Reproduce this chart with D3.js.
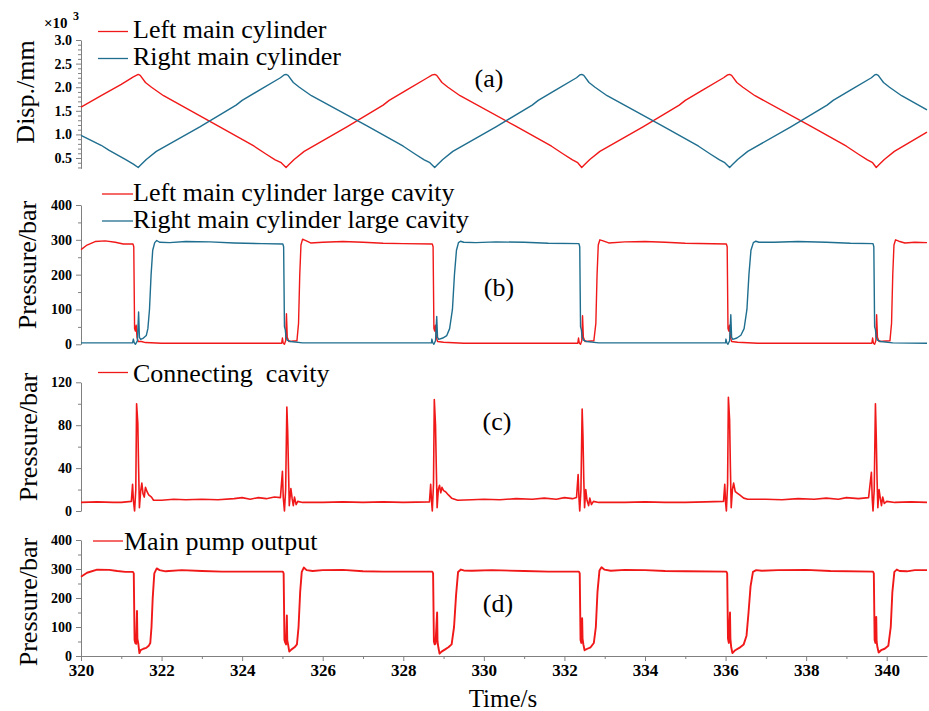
<!DOCTYPE html>
<html>
<head>
<meta charset="utf-8">
<script src="https://cdn.jsdelivr.net/npm/d3@7"></script>
<style>
  body { margin: 0; background: #fff; }
  svg text { font-family: "Liberation Serif", "Times New Roman", serif !important; }
</style>
</head>
<body>
<div id="graf"></div>
<script>
// ---- DATOS ----
// tiempo [s], valor

// (a) desplazamiento x10^3 mm
leftDisp = [
  [320.00,1.58],[320.50,1.82],[321.00,2.06],[321.30,2.22],[321.42,2.27],[321.47,2.25],[321.60,2.10],[321.75,2.00],
  [322.05,1.82],[323.40,1.18],[324.30,0.75],[324.60,0.58],[324.82,0.46],[324.97,0.40],[325.09,0.30],[325.15,0.35],
  [325.29,0.47],[325.54,0.64],[326.60,1.16],[327.50,1.62],[327.65,1.72],[328.10,1.95],[328.60,2.20],[328.72,2.26],
  [328.78,2.27],[328.83,2.25],[328.96,2.10],[329.11,2.00],[329.41,1.82],[330.78,1.18],[331.68,0.75],[331.98,0.58],
  [332.20,0.46],[332.33,0.40],[332.43,0.30],[332.49,0.35],[332.63,0.47],[332.88,0.64],[333.95,1.16],[334.85,1.62],
  [335.00,1.72],[335.45,1.95],[335.95,2.20],[336.05,2.26],[336.10,2.27],[336.15,2.25],[336.28,2.10],[336.43,2.00],
  [336.73,1.82],[338.10,1.18],[339.00,0.75],[339.30,0.58],[339.52,0.46],[339.65,0.40],[339.74,0.30],[339.80,0.35],
  [339.94,0.47],[340.19,0.64],[341.00,1.05]
]
rightDisp = [
  [320.00,0.98],[320.40,0.81],[320.50,0.77],[320.70,0.66],[321.10,0.47],[321.30,0.37],[321.42,0.30],[321.48,0.35],
  [321.62,0.47],[321.87,0.64],[322.95,1.16],[323.85,1.62],[324.00,1.72],[324.45,1.95],[324.95,2.20],[325.04,2.26],
  [325.09,2.27],[325.14,2.25],[325.27,2.10],[325.42,2.00],[325.72,1.82],[327.10,1.18],[328.00,0.75],[328.30,0.58],
  [328.52,0.46],[328.66,0.40],[328.78,0.30],[328.84,0.35],[328.98,0.47],[329.23,0.64],[330.30,1.16],[331.20,1.62],
  [331.35,1.72],[331.80,1.95],[332.30,2.20],[332.38,2.26],[332.43,2.27],[332.48,2.25],[332.61,2.10],[332.76,2.00],
  [333.06,1.82],[334.43,1.18],[335.33,0.75],[335.63,0.58],[335.85,0.46],[335.98,0.40],[336.10,0.30],[336.16,0.35],
  [336.30,0.47],[336.55,0.64],[337.62,1.16],[338.52,1.62],[338.67,1.72],[339.12,1.95],[339.62,2.20],[339.70,2.26],
  [339.74,2.27],[339.79,2.25],[339.92,2.10],[340.07,2.00],[340.37,1.82],[341.00,1.52]
]

// (b) presion camara grande [bar]
leftCavity = [
  [320.00,272],[320.15,285],[320.35,295],[320.60,297],[320.85,293],[321.05,288],[321.29,288],
  [321.31,280],[321.33,45],[321.35,38],[321.37,55],[321.39,20],[321.42,8],[321.50,8],[321.60,5],[322.00,3],
  [324.98,3],[325.00,18],[325.02,3],[325.05,0],[325.08,10],[325.10,88],[325.12,20],[325.16,8],[325.36,10],
  [325.40,60],[325.43,200],[325.46,285],[325.50,302],[325.58,298],[325.70,291],[326.00,293],[326.50,295],
  [327.00,293],[327.50,290],[328.00,289],[328.72,288],
  [328.74,280],[328.76,45],[328.78,38],[328.80,55],[328.82,20],[328.85,8],[329.00,6],[329.50,3],[332.33,3],
  [332.35,18],[332.37,3],[332.40,0],[332.43,10],[332.45,82],[332.47,20],[332.51,8],[332.73,10],[332.78,60],
  [332.81,200],[332.84,285],[332.88,300],[332.96,297],[333.10,291],[333.50,294],[334.00,295],[334.50,293],
  [335.00,290],[336.02,288],
  [336.04,280],[336.06,45],[336.08,38],[336.10,55],[336.12,20],[336.15,8],[336.30,6],[336.80,3],[339.63,3],
  [339.65,18],[339.67,3],[339.70,0],[339.73,10],[339.75,85],[339.77,20],[339.81,8],[340.08,10],[340.12,60],
  [340.15,200],[340.18,285],[340.22,300],[340.30,296],[340.45,291],[340.70,293],[341.00,292]
]
rightCavity = [
  [320.00,4],[321.28,4],[321.30,15],[321.32,5],[321.35,0],[321.40,10],[321.43,93],[321.45,20],[321.48,14],
  [321.55,18],[321.62,25],[321.66,45],[321.70,100],[321.74,200],[321.78,270],[321.83,292],[321.88,298],
  [321.95,293],[322.20,292],[322.60,295],[323.20,294],[323.80,291],[324.50,289],[325.01,288],
  [325.03,280],[325.05,50],[325.07,42],[325.09,20],[325.12,12],[325.20,8],[325.50,4],[328.70,4],
  [328.71,15],[328.73,5],[328.76,0],[328.80,10],[328.83,80],[328.85,20],[328.88,14],[328.98,18],[329.08,25],
  [329.15,45],[329.22,100],[329.27,200],[329.32,270],[329.37,292],[329.42,296],[329.50,293],[329.80,292],
  [330.30,294],[331.00,293],[331.60,290],[332.36,289],
  [332.38,280],[332.40,50],[332.42,42],[332.44,20],[332.47,12],[332.55,8],[332.85,4],[336.00,4],
  [336.01,15],[336.03,5],[336.06,0],[336.10,10],[336.13,85],[336.15,20],[336.18,14],[336.28,18],[336.38,26],
  [336.46,45],[336.53,100],[336.58,200],[336.63,270],[336.69,292],[336.75,296],[336.83,293],[337.20,293],
  [337.80,295],[338.50,293],[339.10,290],[339.66,289],
  [339.68,280],[339.70,50],[339.72,42],[339.74,20],[339.77,12],[339.85,8],[340.15,4],[341.00,3]
]

// (c) camara de conexion [bar]
connectCavity = [
  [320.00,8],[320.40,8.5],[320.80,8],[321.00,8],[321.25,9],[321.28,25],[321.30,10],[321.33,0],[321.36,20],
  [321.38,100],[321.41,82],[321.43,40],[321.45,3],[321.48,18],[321.51,26],[321.54,16],[321.57,13],[321.60,22],
  [321.64,18],[321.68,15],[321.75,13],[321.80,10],[322.00,10],[322.30,11],[322.60,10.5],[323.00,11],[323.40,10.5],
  [323.80,11.5],[324.00,12.5],[324.20,11],[324.40,12.5],[324.60,11.5],[324.80,13],[324.95,12.5],
  [325.00,37],[325.02,13],[325.05,0],[325.08,20],[325.11,97],[325.13,75],[325.15,40],[325.17,5],[325.21,21],
  [325.24,12],[325.27,5],[325.30,13],[325.34,6],[325.38,9],[325.50,8],[326.00,8],[326.50,8.5],[327.00,8],
  [327.50,8.5],[328.00,8],[328.65,8.5],
  [328.68,25],[328.70,10],[328.72,0],[328.75,25],[328.77,104],[328.80,80],[328.82,40],[328.84,3],[328.87,20],
  [328.90,24],[328.93,17],[328.96,22],[329.00,19],[329.05,18],[329.12,15],[329.20,12],[329.35,10],[329.70,10.5],
  [330.00,11],[330.40,10.5],[330.80,11.5],[331.20,11],[331.50,12],[331.80,11],[332.00,12.5],[332.20,11.5],[332.30,12.5],
  [332.34,34],[332.36,13],[332.38,0],[332.41,20],[332.44,95],[332.46,70],[332.48,30],[332.50,3],[332.53,20],
  [332.56,10],[332.60,5],[332.63,12],[332.67,6],[332.72,9],[332.85,8],[333.50,8],[334.00,8.5],[334.50,8],
  [335.00,8],[335.50,8.5],[335.95,9],
  [335.98,25],[336.00,8],[336.02,0],[336.05,25],[336.07,106],[336.10,85],[336.12,40],[336.14,3],[336.17,20],
  [336.20,26],[336.24,18],[336.28,17],[336.35,15],[336.45,12],[336.55,11],[337.00,11],[337.40,10.5],[337.80,11.5],
  [338.20,11],[338.50,12],[338.80,11],[339.00,12.5],[339.30,11.5],[339.55,12.5],
  [339.62,36],[339.64,12],[339.66,0],[339.69,20],[339.72,100],[339.74,70],[339.76,30],[339.78,3],[339.81,20],
  [339.84,12],[339.87,5],[339.90,13],[339.94,7],[340.00,9],[340.20,8],[340.60,8.5],[341.00,8]
]

// (d) salida de la bomba principal [bar]
pumpOutput = [
  [320.00,273],[320.15,287],[320.40,298],[320.70,297],[320.90,293],[321.10,290],[321.29,290],
  [321.31,285],[321.33,55],[321.35,44],[321.37,42],[321.39,155],[321.40,60],[321.42,45],[321.45,10],[321.48,20],
  [321.55,25],[321.62,28],[321.68,35],[321.72,45],[321.75,100],[321.78,200],[321.82,285],[321.88,302],
  [321.95,296],[322.10,292],[322.50,296],[323.00,293],[323.50,291],[324.00,291],[325.01,291],
  [325.03,285],[325.05,55],[325.07,46],[325.09,40],[325.11,140],[325.12,55],[325.14,40],[325.17,15],[325.22,22],
  [325.30,30],[325.36,40],[325.40,100],[325.44,220],[325.48,290],[325.53,305],[325.60,296],[325.75,293],
  [326.00,296],[326.50,297],[327.00,292],[327.50,291],[328.00,291],[328.72,291],
  [328.74,285],[328.76,50],[328.78,40],[328.80,42],[328.84,150],[328.85,50],[328.87,30],[328.90,8],[328.95,15],
  [329.03,22],[329.12,30],[329.20,40],[329.26,100],[329.31,210],[329.36,290],[329.43,298],[329.50,295],
  [329.70,294],[330.20,296],[331.00,293],[331.60,291],[332.36,291],
  [332.38,285],[332.40,55],[332.42,45],[332.44,130],[332.45,60],[332.47,40],[332.50,20],[332.57,25],[332.65,30],
  [332.73,45],[332.78,100],[332.82,220],[332.87,295],[332.92,306],[332.99,298],[333.15,294],[333.50,297],
  [334.00,296],[334.50,293],[335.00,292],[336.02,291],
  [336.04,285],[336.06,60],[336.08,45],[336.11,150],[336.12,60],[336.14,30],[336.17,10],[336.24,20],[336.34,28],
  [336.45,40],[336.52,70],[336.57,150],[336.62,240],[336.68,290],[336.76,296],[336.90,294],[337.30,296],
  [338.00,297],[338.60,293],[339.66,291],
  [339.68,285],[339.70,55],[339.72,45],[339.74,135],[339.75,50],[339.77,30],[339.80,12],[339.86,20],[339.95,25],
  [340.04,35],[340.10,100],[340.14,220],[340.19,290],[340.25,298],[340.32,293],[340.50,292],[340.70,296],[341.00,296]
]

xTicks  = [320, 322, 324, 326, 328, 330, 332, 334, 336, 338, 340]
xMinor  = [321, 323, 325, 327, 329, 331, 333, 335, 337, 339]
dispTicks     = [0.5, 1.0, 1.5, 2.0, 2.5, 3.0]
dispMinor     = [0.3, 0.4, 0.6, 0.7, 0.8, 0.9, 1.1, 1.2, 1.3, 1.4, 1.6, 1.7, 1.8, 1.9, 2.1, 2.2, 2.3, 2.4, 2.6, 2.7, 2.8, 2.9]
pressTicks    = [0, 100, 200, 300, 400]
pressMinor    = [50, 150, 250, 350]
connectTicks  = [0, 40, 80, 120]
connectMinor  = [20, 60, 100]

legendA = ['Left main cylinder', 'Right main cylinder']
legendB = ['Left main cylinder large cavity', 'Right main cylinder large cavity']
legendC = ['Connecting  cavity']
legendD = ['Main pump output']

rojo = '#f01818'
azul = '#1f6e8f'
gris = '#808080'
fuente = '"Liberation Serif", "Times New Roman", serif'

// ---- LIENZO ----
ancho_total = 929
alto_total = 711

svg = d3.select('#graf').append('svg')
        .attr('width', ancho_total)
        .attr('height', alto_total)
        .attr('font-family', fuente)

x = d3.scaleLinear().domain([320, 341]).range([81, 927])

function panel(cfg) {
  var y = d3.scaleLinear().domain(cfg.domain).range(cfg.range)
  var g = svg.append('g')

  // eje y
  var ejeMinor = g.append('g')
      .attr('transform', 'translate(81,0)')
      .call(d3.axisLeft(y).tickValues(cfg.minor).tickSize(3).tickSizeOuter(0).tickFormat(''))
  ejeMinor.select('.domain').remove()
  ejeMinor.selectAll('line').attr('stroke', gris)

  var eje = g.append('g')
      .attr('transform', 'translate(81,0)')
      .attr('font-family', fuente)
      .call(d3.axisLeft(y).tickValues(cfg.ticks).tickSize(5).tickSizeOuter(0).tickPadding(4).tickFormat(cfg.fmt))
  eje.attr('font-family', fuente)
  eje.select('.domain').attr('stroke', gris)
  eje.selectAll('line').attr('stroke', gris)
  eje.selectAll('text')
     .style('font-family', fuente)
     .style('font-size', '14px')
     .style('font-weight', 'bold')
     .attr('fill', '#000')

  // titulo eje
  g.append('text')
   .attr('transform', 'translate(' + cfg.titleX + ',' + cfg.titleY + ') rotate(-90)')
   .attr('text-anchor', 'middle')
   .style('font-size', '26px')
   .text(cfg.title)

  // lineas
  var linea = d3.line().x(d => x(d[0])).y(d => y(d[1]))
  cfg.series.forEach(s => {
    g.append('path')
     .datum(s.data)
     .attr('fill', 'none')
     .attr('stroke', s.color)
     .attr('stroke-width', cfg.width)
     .attr('stroke-linejoin', 'round')
     .attr('d', linea)
  })

  // leyenda
  cfg.legend.forEach((txt, i) => {
    var ly = cfg.legY[i]
    g.append('line')
     .attr('x1', cfg.legX[0]).attr('x2', cfg.legX[1])
     .attr('y1', ly).attr('y2', ly)
     .attr('stroke', cfg.series[i].color)
     .attr('stroke-width', 1.3)
    g.append('text')
     .attr('x', cfg.legX[2])
     .attr('y', ly + cfg.legDy)
     .attr('xml:space', 'preserve')
     .style('white-space', 'pre')
     .style('font-size', '26px')
     .text(txt)
  })

  // etiqueta (a), (b)...
  g.append('text')
   .attr('x', cfg.tag[0]).attr('y', cfg.tag[1])
   .attr('text-anchor', 'middle')
   .style('font-size', '26px')
   .text(cfg.tagText)

  return y
}

// (a)
panel({
  domain: [0.28, 3.0], range: [168.4, 40],
  ticks: dispTicks, minor: dispMinor, fmt: d3.format('.1f'),
  title: 'Disp./mm', titleX: 34, titleY: 92,
  series: [{ data: leftDisp, color: rojo }, { data: rightDisp, color: azul }],
  width: 1.4,
  legend: legendA, legX: [98, 128, 133], legY: [31.5, 58.5], legDy: 6,
  tag: [489, 87], tagText: '(a)'
})

// x10^3
svg.append('text')
   .attr('x', 44).attr('y', 28)
   .style('font-size', '15px').style('font-weight', 'bold')
   .text('×10')
svg.append('text')
   .attr('x', 73).attr('y', 20)
   .style('font-size', '12px').style('font-weight', 'bold')
   .text('3')

// (b)
panel({
  domain: [0, 400], range: [344.3, 205],
  ticks: pressTicks, minor: pressMinor, fmt: d3.format('d'),
  title: 'Pressure/bar', titleX: 36, titleY: 265,
  series: [{ data: leftCavity, color: rojo }, { data: rightCavity, color: azul }],
  width: 1.4,
  legend: legendB, legX: [102, 133, 133], legY: [194, 221], legDy: 7,
  tag: [499, 296], tagText: '(b)'
})

// (c)
panel({
  domain: [0, 120], range: [511, 382.3],
  ticks: connectTicks, minor: connectMinor, fmt: d3.format('d'),
  title: 'Pressure/bar', titleX: 37, titleY: 437,
  series: [{ data: connectCavity, color: rojo }],
  width: 1.6,
  legend: legendC, legX: [98, 128, 133], legY: [372.5], legDy: 9,
  tag: [497, 430], tagText: '(c)'
})

// (d)
panel({
  domain: [0, 400], range: [656, 540],
  ticks: pressTicks, minor: pressMinor, fmt: d3.format('d'),
  title: 'Pressure/bar', titleX: 37, titleY: 602,
  series: [{ data: pumpOutput, color: rojo }],
  width: 1.9,
  legend: legendD, legX: [93, 123, 124], legY: [541], legDy: 9,
  tag: [498, 612], tagText: '(d)'
})

// eje x (solo abajo)
ejeXm = svg.append('g')
   .attr('transform', 'translate(0,656)')
   .call(d3.axisBottom(x).tickValues(xMinor).tickSize(3).tickSizeOuter(0).tickFormat(''))
ejeXm.select('.domain').remove()
ejeXm.selectAll('line').attr('stroke', gris)

ejeX = svg.append('g')
   .attr('transform', 'translate(0,656)')
   .call(d3.axisBottom(x).tickValues(xTicks).tickSize(5).tickSizeOuter(0).tickPadding(3).tickFormat(d3.format('d')))
ejeX.attr('font-family', fuente)
ejeX.select('.domain').attr('stroke', gris)
ejeX.selectAll('line').attr('stroke', gris)
ejeX.selectAll('text')
    .style('font-family', fuente)
    .style('font-size', '17px')
    .style('font-weight', 'bold')
    .attr('fill', '#000')

svg.append('text')
   .attr('x', 503).attr('y', 707)
   .attr('text-anchor', 'middle')
   .style('font-size', '25px')
   .text('Time/s')
</script>
</body>
</html>
